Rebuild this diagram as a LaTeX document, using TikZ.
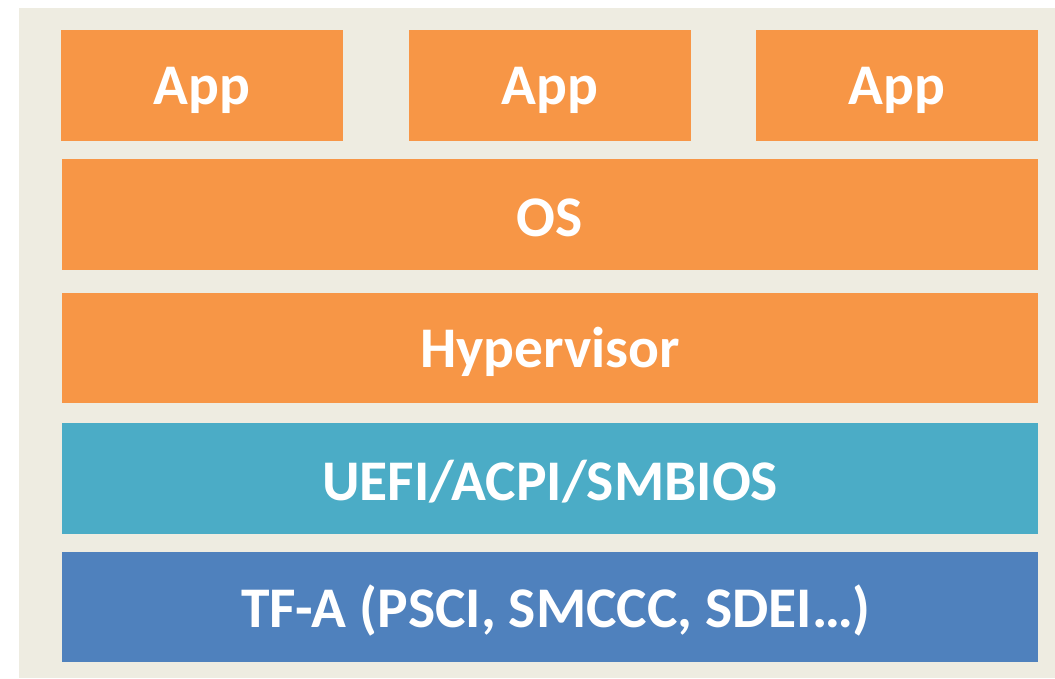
\documentclass[tikz,border=0pt]{standalone}
\usepackage{fontspec}
\setmainfont{Carlito}
\definecolor{paper}{HTML}{EEECE1}
\definecolor{layerorange}{HTML}{F79646}
\definecolor{layerteal}{HTML}{4BACC6}
\definecolor{layerblue}{HTML}{4F81BD}
\tikzset{
  layer/.style={draw=none, inner sep=0pt, font=\fontsize{57.5}{64}\selectfont\bfseries, text=white}
}
\begin{document}
\begin{tikzpicture}[x=1pt,y=-1pt]
  \useasboundingbox (0,0) rectangle (1055,678);
  \fill[paper] (19,8) rectangle (1055,678);
  % application row
  \fill[layerorange] (61,30) rectangle (343,141);
  \fill[layerorange] (409,30) rectangle (691,141);
  \fill[layerorange] (756,30) rectangle (1038,141);
  \node[layer] (app1) at (202,90) {App};
  \node[layer] (app2) at (550,90) {App};
  \node[layer] (app3) at (897,90) {App};
  % system layers
  \fill[layerorange] (62,159) rectangle (1038,270);
  \node[layer] (os) at (550,218) {OS};
  \fill[layerorange] (62,293) rectangle (1038,403);
  \node[layer] (hyp) at (550,352) {Hypervisor};
  \fill[layerteal] (62,423) rectangle (1038,534);
  \node[layer] (fw) at (550,482) {UEFI/ACPI/SMBIOS};
  \fill[layerblue] (62,552) rectangle (1038,662);
  \node[layer] (tfa) at (556,611) {TF-A (PSCI, SMCCC, SDEI…)};
\end{tikzpicture}
\end{document}
